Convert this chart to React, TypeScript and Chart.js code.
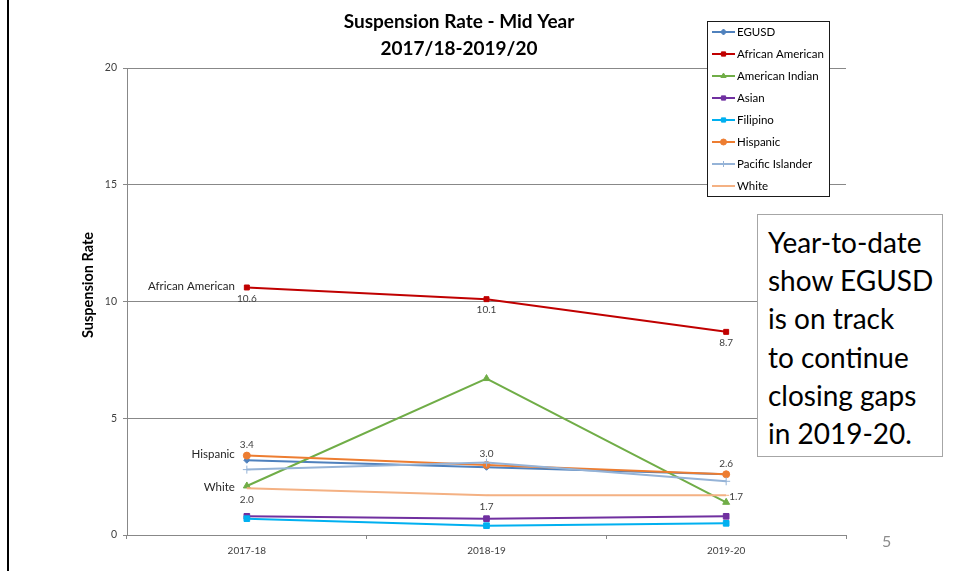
import React, { useEffect, useRef } from "react";
import { Chart, registerables } from "chart.js";
import { drawPoint } from "chart.js/helpers";

Chart.register(...registerables);

// ---------- data ----------
const categories = ["2017-18", "2018-19", "2019-20"];
const seriesNames = [
  "EGUSD",
  "African American",
  "American Indian",
  "Asian",
  "Filipino",
  "Hispanic",
  "Pacific Islander",
  "White",
];
const egusd = [3.2, 2.9, 2.6];
const africanAmerican = [10.6, 10.1, 8.7];
const americanIndian = [2.1, 6.7, 1.4];
const asian = [0.8, 0.7, 0.8];
const filipino = [0.7, 0.4, 0.5];
const hispanic = [3.4, 3.0, 2.6];
const pacificIslander = [2.8, 3.1, 2.3];
const white = [2.0, 1.7, 1.7];
const yMin = 0;
const yMax = 20;
const yStep = 5;
const titleLines = ["Suspension Rate - Mid Year", "2017/18-2019/20"];
const yTitle = "Suspension Rate";
const noteLines = [
  "Year-to-date",
  "show EGUSD",
  "is on track",
  "to continue",
  "closing gaps",
  "in 2019-20.",
];
const pageNumber = "5";
// labels: [series index, point index, placement]
const valueLabels: [number, number, string][] = [
  [1, 0, "below"],
  [1, 1, "below"],
  [1, 2, "below"],
  [5, 0, "above"],
  [5, 1, "above"],
  [5, 2, "above"],
  [7, 0, "below"],
  [7, 1, "below"],
  [7, 2, "right"],
];
const seriesNameLabels = [1, 5, 7];

// ---------- styles ----------
const seriesValues = [
  egusd,
  africanAmerican,
  americanIndian,
  asian,
  filipino,
  hispanic,
  pacificIslander,
  white,
];
const colors = [
  "#4F81BD",
  "#C00000",
  "#70AD47",
  "#7030A0",
  "#00B0F0",
  "#ED7D31",
  "#95B3D7",
  "#F4B183",
];
const pointStyles = ["rectRot", "rect", "triangle", "rect", "rect", "circle", "cross", "dash"];
const pointRadii = [3, 3.5, 4, 4, 4, 3.5, 4, 3];
const FONT = "Lato, 'Open Sans', sans-serif";
const GRID = "#888888";

const decorPlugin = {
  id: "decor",
  afterDatasetsDraw(chart: any) {
    const ctx = chart.ctx;
    ctx.save();
    ctx.font = `10px ${FONT}`;
    ctx.fillStyle = "#404040";
    ctx.textBaseline = "middle";
    for (const [si, pi, place] of valueLabels) {
      const el = chart.getDatasetMeta(si).data[pi];
      const v = seriesValues[si][pi].toFixed(1);
      if (place === "below") {
        ctx.textAlign = "center";
        ctx.fillText(v, el.x, el.y + 11);
      } else if (place === "above") {
        ctx.textAlign = "center";
        ctx.fillText(v, el.x, el.y - 11);
      } else {
        ctx.textAlign = "left";
        ctx.fillText(v, el.x + 3, el.y + 1);
      }
    }
    ctx.font = `11.5px ${FONT}`;
    ctx.fillStyle = "#262626";
    ctx.textAlign = "right";
    for (const si of seriesNameLabels) {
      const el = chart.getDatasetMeta(si).data[0];
      ctx.fillText(seriesNames[si], el.x - 12, el.y - 1);
    }
    ctx.restore();
  },
  afterDraw(chart: any) {
    const ctx = chart.ctx;
    ctx.save();
    // title
    ctx.fillStyle = "#000";
    ctx.font = `bold 19px ${FONT}`;
    ctx.textAlign = "center";
    ctx.textBaseline = "alphabetic";
    ctx.fillText(titleLines[0], 459, 28);
    ctx.fillText(titleLines[1], 459, 55);
    // y title
    ctx.save();
    ctx.translate(93, 285);
    ctx.rotate(-Math.PI / 2);
    ctx.font = `bold 14.5px ${FONT}`;
    ctx.textBaseline = "alphabetic";
    ctx.fillText(yTitle, 0, 0);
    ctx.restore();
    // legend
    const lx = 707, ly = 21, lw = 122, lh = 175;
    ctx.fillStyle = "#fff";
    ctx.fillRect(lx, ly, lw, lh);
    ctx.strokeStyle = "#1a1a1a";
    ctx.lineWidth = 1;
    ctx.strokeRect(lx + 0.5, ly + 0.5, lw, lh);
    ctx.font = `11.5px ${FONT}`;
    ctx.textAlign = "left";
    ctx.textBaseline = "middle";
    chart.data.datasets.forEach((ds: any, i: number) => {
      const y = 32 + i * 22;
      ctx.strokeStyle = ds.borderColor;
      ctx.lineWidth = 2;
      ctx.beginPath();
      ctx.moveTo(712, y);
      ctx.lineTo(735, y);
      ctx.stroke();
      ctx.fillStyle = ds.borderColor;
      ctx.lineWidth = 1;
      drawPoint(ctx, { pointStyle: ds.pointStyle, radius: Math.min(ds.pointRadius, 3), rotation: 0, borderWidth: 1 }, 723.5, y);
      ctx.fillStyle = "#000";
      ctx.fillText(ds.label, 737, y + 0.5);
    });
    ctx.restore();
  },
};

export default function App() {
  const ref = useRef<HTMLCanvasElement>(null);
  useEffect(() => {
    if (!ref.current) return;
    const chart = new Chart(ref.current, {
      type: "line",
      data: {
        labels: categories,
        datasets: seriesNames.map((name, i) => ({
          label: name,
          data: seriesValues[i],
          borderColor: colors[i],
          backgroundColor: colors[i],
          pointBackgroundColor: colors[i],
          pointBorderColor: colors[i],
          pointStyle: pointStyles[i] as any,
          pointRadius: pointRadii[i],
          pointBorderWidth: 1,
          borderWidth: 2,
          tension: 0,
          fill: false,
          order: seriesNames.length - i,
        })),
      },
      options: {
        responsive: false,
        animation: false,
        devicePixelRatio: 1,
        layout: { padding: { left: 79, right: 110, top: 68, bottom: 0 } },
        plugins: {
          legend: { display: false },
          tooltip: { enabled: false },
          title: { display: false },
        },
        scales: {
          x: {
            type: "category",
            offset: true,
            grid: { offset: true, drawOnChartArea: false, drawTicks: true, tickLength: 4, color: GRID },
            border: { color: GRID, width: 1 },
            ticks: { color: "#404040", font: { family: FONT, size: 10 }, padding: 6, maxRotation: 0 },
            afterFit: (s: any) => {
              s.height = 36;
            },
          },
          y: {
            min: yMin,
            max: yMax,
            ticks: { stepSize: yStep, color: "#404040", font: { family: FONT, size: 10.5 }, padding: 6 },
            grid: { color: GRID, tickLength: 4 },
            border: { color: GRID, width: 1 },
            afterFit: (s: any) => {
              s.width = 48;
            },
          },
        },
      },
      plugins: [decorPlugin],
    });
    return () => chart.destroy();
  }, []);

  return (
    <div style={{ position: "absolute", left: 0, top: 0, width: 956, height: 571, background: "#fff", overflow: "hidden" }}>
      <canvas ref={ref} width={956} height={571} style={{ display: "block", position: "absolute", left: 0, top: 0 }} />
      <div style={{ position: "absolute", left: 7, top: 0, width: 2, height: 571, background: "#000" }} />
      <div
        style={{
          position: "absolute",
          left: 757,
          top: 214,
          width: 186,
          height: 243,
          boxSizing: "border-box",
          border: "1px solid #A6A6A6",
          background: "#fff",
          paddingLeft: 10,
          paddingTop: 8,
          fontFamily: FONT,
          fontSize: 28,
          lineHeight: "38.2px",
          color: "#000",
          whiteSpace: "nowrap",
        }}
      >
        {noteLines.map((l) => (
          <div key={l}>{l}</div>
        ))}
      </div>
      <div
        style={{
          position: "absolute",
          left: 882,
          top: 531,
          fontFamily: FONT,
          fontSize: 16,
          color: "#8C8C8C",
          lineHeight: "20px",
        }}
      >
        {pageNumber}
      </div>
    </div>
  );
}
